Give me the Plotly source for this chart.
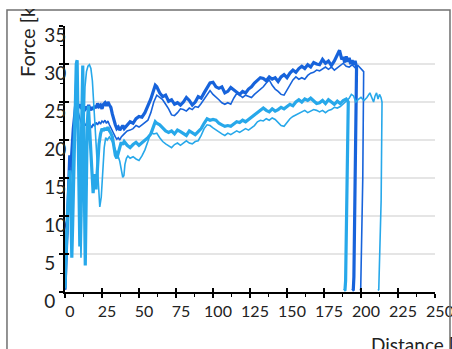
import plotly.graph_objects as go

# ---------------- data ----------------
dark_thick_x = [0, 0.8, 1.6, 2.4, 3.2, 4.0, 4.8, 5.6, 6.4, 7.2, 8, 9, 10, 11, 12, 13, 14, 15, 16, 17, 18, 19, 20,
                21, 22, 23, 24, 25, 26, 27, 28, 29, 30, 31, 32, 33, 34, 35, 36, 37, 38, 39, 40, 42, 44, 46, 48, 50,
                52, 54, 56, 58, 60, 61, 62, 63, 64, 66, 68, 70, 72, 74, 76, 78, 80, 82, 84, 86, 88, 90, 92, 94, 96,
                98, 100, 102, 104, 106, 108, 110, 112, 114, 116, 118, 120, 122, 124, 126, 128, 130, 132, 134, 136,
                138, 140, 142, 144, 146, 148, 150, 152, 154, 156, 158, 160, 162, 164, 166, 168, 170, 172, 174, 176,
                178, 180, 182, 184, 185.5, 187, 188, 189, 190, 191, 192, 193, 194, 195, 196, 197, 196.2, 195.2,
                194.8, 194.0]
dark_thick_y = [0.3, 5, 11, 15.5, 18, 16.5, 19.5, 21.5, 23, 24.6, 24.9, 24.3, 24.7, 24.1, 24.5, 23.8, 24.4, 24.0,
                24.6, 23.9, 24.3, 24.0, 24.5, 24.2, 24.8, 24.4, 24.6, 24.1, 24.7, 24.9, 24.5, 25.0, 24.6, 24.3,
                23.4, 22.6, 22.0, 21.5, 21.7, 21.3, 21.6, 21.9, 21.5, 22.0, 22.4, 22.2, 22.8, 23.1, 23.0, 23.6,
                24.4, 25.4, 26.6, 27.2, 27.0, 26.5, 26.2, 25.7, 25.9, 25.1, 25.3, 24.7, 24.9, 24.6, 25.0, 25.6,
                25.2, 24.6, 25.0, 25.7, 25.5, 26.2, 26.9, 27.5, 27.6, 27.0, 26.8, 27.0, 26.2, 26.4, 26.9, 26.6,
                26.3, 26.0, 26.4, 26.2, 26.7, 27.0, 27.5, 27.9, 28.2, 28.1, 27.8, 28.3, 28.0, 28.2, 27.7, 28.3,
                28.6, 28.2, 28.8, 29.2, 28.9, 29.4, 29.7, 29.4, 29.9, 29.6, 30.2, 30.0, 29.9, 30.6, 30.1, 30.4,
                29.8, 30.4, 31.2, 31.8, 30.6, 30.9, 30.2, 31.0, 30.3, 30.8, 30.0, 30.5, 29.9, 30.4, 29.6, 15, 2,
                0.3, 0.2]

dark_thin_x = [0, 1, 2, 3, 4, 5, 6, 7, 8, 9, 10, 11, 12, 13, 14, 15, 16, 17, 18, 19, 20, 21, 22, 23, 24, 25, 26,
               27, 28, 29, 30, 31, 32, 33, 34, 35, 36, 37, 38, 40, 42, 44, 46, 48, 50, 52, 54, 56, 58, 60, 62, 64,
               66, 68, 70, 72, 74, 76, 78, 80, 82, 84, 86, 88, 90, 92, 94, 96, 98, 100, 102, 104, 106, 108, 110,
               112, 114, 116, 118, 120, 122, 124, 126, 128, 130, 132, 134, 136, 138, 140, 142, 144, 146, 148, 150,
               152, 154, 156, 158, 160, 162, 164, 166, 168, 170, 172, 174, 176, 178, 180, 182, 184, 186, 188, 190,
               192, 194, 196, 198, 200, 201.8, 201.2, 200.2, 199.8, 199.2]
dark_thin_y = [0.3, 4, 9, 13.5, 16, 18.5, 20, 21.5, 23, 23.6, 22.8, 22.2, 21.8, 22.3, 21.9, 22.2, 21.7, 22.0, 21.6,
               22.1, 21.8, 22.3, 22.0, 22.4, 22.1, 22.5, 22.3, 22.6, 22.2, 22.5, 22.0, 21.6, 21.1, 20.6, 20.4,
               20.1, 20.3, 20.0, 20.4, 20.8, 21.2, 21.3, 21.5, 21.9, 21.7, 22.0, 22.3, 22.6, 23.6, 25.0, 25.9,
               25.6, 25.3, 24.7, 24.1, 23.3, 23.2, 23.6, 24.1, 24.0, 23.8, 24.2, 24.0, 24.4, 24.3, 24.8, 25.4,
               26.0, 26.5, 26.0, 25.7, 25.3, 24.9, 24.7, 24.9, 24.7, 25.5, 26.1, 25.9, 25.6, 25.9, 25.7, 25.6,
               26.0, 26.3, 26.6, 27.0, 27.5, 27.9, 27.2, 26.7, 26.4, 26.0, 25.9, 26.6, 27.4, 27.9, 28.3, 28.0,
               28.2, 28.0, 28.5, 28.8, 28.9, 29.2, 29.1, 29.4, 29.6, 29.3, 29.6, 29.2, 29.5, 29.8, 30.1, 29.7,
               29.6, 29.9, 29.5, 29.8, 29.4, 29.0, 15, 2, 0.3, 0.2]

light_thick_x = [0, 0.8, 1.6, 2.4, 3.2, 4.0, 4.6, 5.2, 6.0, 6.8, 7.6, 8.2, 8.8, 9.4, 10.0, 10.6, 11.4, 12.0, 12.6,
                 13.2, 13.7, 14.3, 15.0, 15.8, 16.6, 17.4, 18.2, 19, 20, 21, 22, 23, 24, 25, 26, 27, 28, 29, 30,
                 31, 32, 33, 34, 35, 36, 37, 38, 39, 40, 42, 44, 46, 48, 50, 52, 54, 56, 58, 60, 61, 62, 64, 66,
                 68, 70, 72, 74, 76, 78, 80, 82, 84, 86, 88, 90, 92, 94, 96, 98, 100, 102, 104, 106, 108, 110, 112,
                 114, 116, 118, 120, 122, 124, 126, 128, 130, 132, 134, 136, 138, 140, 142, 144, 146, 148, 150,
                 152, 154, 156, 158, 160, 162, 164, 166, 168, 170, 172, 174, 176, 178, 180, 182, 184, 186, 188,
                 190, 191.4, 190.6, 189.6, 189.2, 188.4]
light_thick_y = [0.5, 6, 10, 13, 16, 11, 4.5, 9, 17, 25, 30, 30.5, 24, 13, 6, 15, 27, 29.8, 21, 8, 3.5, 12, 22,
                 24.5, 22, 19, 16, 13, 15.5, 13.5, 16.5, 19.5, 20.8, 21.5, 21.2, 21.6, 21.3, 21.7, 21.2, 20.9,
                 20.4, 19.2, 18.0, 17.6, 18.4, 19.3, 19.7, 19.4, 19.8, 19.3, 19.0, 19.4, 19.7, 19.3, 19.6, 19.9,
                 20.3, 20.8, 22.0, 22.4, 22.2, 22.0, 21.6, 21.2, 21.0, 21.2, 20.8, 21.3, 21.1, 20.9, 20.6, 21.2,
                 20.9, 20.7, 21.1, 21.5, 22.2, 22.8, 22.6, 22.7, 22.6, 22.2, 22.0, 21.8, 21.9, 21.8, 22.1, 22.4,
                 22.3, 22.6, 22.4, 22.7, 23.0, 23.4, 23.7, 23.9, 24.2, 23.9, 23.7, 24.1, 23.8, 24.0, 24.3, 24.1,
                 24.4, 24.7, 24.5, 25.0, 25.3, 25.0, 25.4, 25.2, 25.5, 25.1, 24.8, 24.9, 25.2, 24.8, 25.3, 25.0,
                 24.7, 25.1, 24.8, 25.2, 25.4, 25.0, 12, 1.5, 0.3, 0.2]

light_thin_x = [0, 1, 2, 3, 4, 5, 6, 7, 7.8, 8.6, 9.4, 10.0, 10.8, 11.5, 12.5, 13.5, 14.5, 15.5, 16.5, 17.5, 18.5,
                19.5, 20.5, 21.5, 22.5, 23.5, 24.5, 25.5, 26.5, 27.5, 28.5, 30, 31, 32, 33, 34, 35, 36, 37, 38,
                39, 39.8, 40.5, 41.5, 42.5, 44, 46, 48, 50, 52, 54, 56, 58, 60, 62, 64, 66, 68, 70, 72, 74, 76,
                78, 80, 82, 84, 86, 88, 90, 92, 94, 96, 98, 100, 102, 104, 106, 108, 110, 112, 114, 116, 118, 120,
                122, 124, 126, 128, 130, 132, 134, 136, 138, 140, 142, 144, 146, 148, 150, 152, 154, 156, 158, 160,
                162, 164, 166, 168, 170, 172, 174, 176, 178, 180, 182, 184, 186, 188, 190, 192, 193.5, 195, 196.5,
                198, 200, 202, 204, 206, 207.5, 208.5, 209.5, 210.5, 211.5, 212.5, 213.5, 214.2, 213.6, 212.4,
                212.0, 211.4]
light_thin_y = [0.5, 5, 9, 14, 11, 16, 22, 28.5, 30.4, 27.5, 18, 9, 4.5, 11, 21, 27, 29, 29.7, 29.9, 29.4, 27.8,
                24.5, 20.5, 16.5, 13, 11.2, 12.5, 16, 19, 20.3, 20.0, 20.4, 20.1, 19.8, 19.2, 18.8, 18.3, 17.8,
                17.2, 16.2, 15.1, 15.3, 16.8, 17.6, 17.9, 17.6, 17.8, 17.5, 17.3, 17.9, 18.7, 19.8, 21.0, 20.8,
                20.9, 20.3, 19.8, 19.5, 19.2, 19.0, 19.4, 19.6, 19.3, 19.6, 19.9, 19.6, 19.5, 19.8, 19.9, 20.6,
                21.5, 22.0, 21.9, 21.6, 21.3, 21.1, 20.8, 20.6, 20.9, 20.7, 21.0, 21.2, 21.0, 21.3, 21.5, 21.3,
                21.6, 21.9, 22.4, 22.6, 22.5, 22.8, 22.6, 22.9, 22.7, 22.3, 21.9, 21.8, 22.3, 22.8, 23.1, 23.3,
                23.6, 23.7, 23.9, 23.6, 23.8, 24.0, 23.9, 23.7, 23.9, 23.6, 23.9, 24.0, 24.3, 24.2, 24.4, 24.7,
                25.1, 25.5, 26.0, 25.8, 25.0, 25.3, 25.6, 25.2, 25.6, 26.2, 25.6, 25.0, 25.8, 26.2, 25.4, 26.0,
                25.6, 25.0, 12, 1.5, 0.3, 0.2]

x_range = [0, 250]
y_range = [0, 35]
grid_values = [5, 10, 15, 20, 25, 30]
y_tick_values = [0, 5, 10, 15, 20, 25, 30, 35]
y_tick_labels = ["0", "5", "10", "15", "20", "25", "30", "35"]
x_title = "Distance [m]"
y_title = "Force [kN]"

DARK = "#1763DB"
LIGHT = "#27A8EA"
FONT = "Lato"
FIG_SPACE = "\u2007"

# labels in the reference are left-aligned: pad one-digit labels to two digit widths
y_tick_text = [t if len(t) > 1 else t + FIG_SPACE for t in y_tick_labels]

fig = go.Figure()
series = [
    (dark_thin_x, dark_thin_y, DARK, 1.6),
    (dark_thick_x, dark_thick_y, DARK, 3.2),
    (light_thin_x, light_thin_y, LIGHT, 1.6),
    (light_thick_x, light_thick_y, LIGHT, 3.2),
]
for xs, ys, col, w in series:
    fig.add_trace(go.Scatter(x=xs, y=ys, mode="lines", line=dict(color=col, width=w),
                             showlegend=False, hoverinfo="skip"))

# helper trace for inner (crossing) tick marks
fig.add_trace(go.Scatter(x=[None], y=[None], xaxis="x2", yaxis="y2", showlegend=False, hoverinfo="skip"))

for g in grid_values:
    fig.add_shape(type="line", xref="x", yref="y", x0=x_range[0], x1=x_range[1], y0=g, y1=g,
                  line=dict(color="#DCDCDC", width=1.5), layer="below")

# outer frame
fig.add_shape(type="rect", xref="paper", yref="paper", x0=-0.1568, x1=1.0405, y0=-0.35, y1=1.0602,
              line=dict(color="#707070", width=1.5), fillcolor="rgba(0,0,0,0)", layer="above")

axis_common = dict(showline=True, linecolor="black", linewidth=2, ticks="outside", ticklen=4,
                   tickwidth=1.5, tickcolor="black", showgrid=False, zeroline=False, automargin=False)

fig.update_layout(
    width=452, height=349, autosize=False,
    margin=dict(l=65, r=17, t=26, b=57),
    paper_bgcolor="white", plot_bgcolor="white",
    xaxis=dict(range=x_range, tick0=0, dtick=25, **axis_common,
               minor=dict(ticks="outside", ticklen=3, dtick=12.5, tickcolor="black", tickwidth=1.2),
               tickfont=dict(family=FONT, size=16, color="#222"), ticklabelshift=5,
               ticklabeloverflow="allow"),
    yaxis=dict(range=y_range, tickmode="array", tickvals=y_tick_values, ticktext=y_tick_text,
               **axis_common,
               minor=dict(ticks="outside", ticklen=3, dtick=2.5, tickcolor="black", tickwidth=1.2),
               tickfont=dict(family=FONT, size=19, color="#222"),
               ticklabelstandoff=-11, ticklabelshift=9, ticklabeloverflow="allow"),
    xaxis2=dict(range=x_range, overlaying="x", anchor="y2", side="bottom", tick0=0, dtick=25,
                ticks="inside", ticklen=4, tickwidth=1.5, tickcolor="black", showticklabels=False,
                showline=False, showgrid=False, zeroline=False, automargin=False),
    yaxis2=dict(range=y_range, overlaying="y", anchor="x2", side="left", tick0=0, dtick=5,
                ticks="inside", ticklen=4, tickwidth=1.5, tickcolor="black", showticklabels=False,
                showline=False, showgrid=False, zeroline=False, automargin=False),
    annotations=[
        dict(text=y_title, textangle=-90, xref="paper", yref="paper", x=-0.1014, y=0.8008,
             xanchor="center", yanchor="bottom", showarrow=False,
             font=dict(family=FONT, size=20, color="#222")),
        dict(text=x_title, xref="paper", yref="paper", x=0.8216, y=-0.145,
             xanchor="left", yanchor="top", showarrow=False,
             font=dict(family=FONT, size=19, color="#222")),
        # white strip above the outer frame (the reference is cropped there)
        dict(text=" ", xref="paper", yref="paper", x=-0.1757, y=1.0977, xanchor="left", yanchor="top",
             width=452, height=9, bgcolor="white", borderpad=0, borderwidth=0, showarrow=False,
             font=dict(size=6)),
    ],
)

fig.write_html("out.html")
